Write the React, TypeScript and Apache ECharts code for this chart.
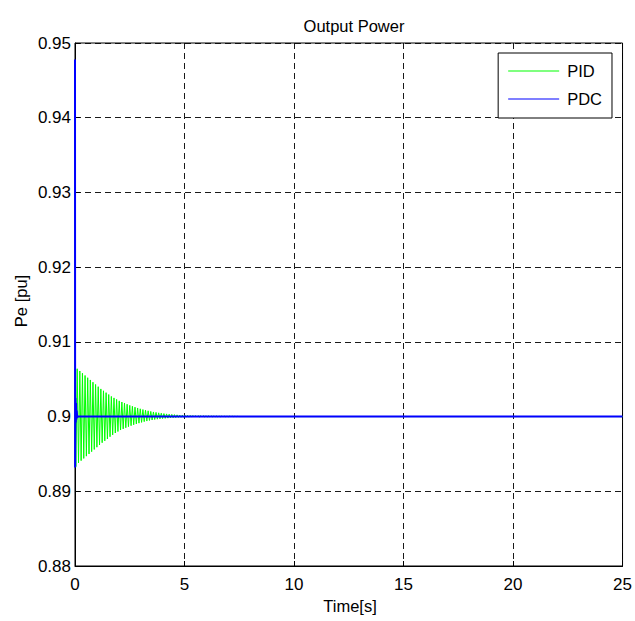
import React, { useEffect, useRef } from "react";
import * as echarts from "echarts";

const title = "Output Power";
const xName = "Time[s]";
const yName = "Pe [pu]";
const seriesNames = ["PID", "PDC"];
const xTicks = [0, 5, 10, 15, 20, 25];
const yTicks = [0.88, 0.89, 0.9, 0.91, 0.92, 0.93, 0.94, 0.95];

const baseLevel = 0.9;
// PID: sampling of the oscillation (first trough time, half-period spacing)
const pidFirstTrough = 0.04;
const pidPeriod = 0.12;
// deviations from 0.9 in thousandths
const pidTroughDev = [
  6.7, 6.2, 5.9, 5.6, 5.3, 5.0, 4.7, 4.4, 4.1, 3.8, 3.5, 3.25, 3.0, 2.7, 2.45, 2.2, 2.0, 1.8, 1.65, 1.5,
  1.35, 1.22, 1.1, 0.98, 0.88, 0.78, 0.68, 0.6, 0.52, 0.46, 0.4, 0.35, 0.3, 0.27, 0.24, 0.21, 0.18, 0.16,
  0.14, 0.12, 0.1, 0.09, 0.08, 0.08, 0.07, 0.06, 0.06, 0.05, 0.05, 0.04, 0.04, 0.04, 0.03, 0.03, 0.03,
  0.02, 0.02, 0.02, 0.02, 0.01, 0.01, 0.01,
];
const pidPeakDev = [
  6.4, 6.1, 5.8, 5.5, 5.2, 4.9, 4.6, 4.3, 4.0, 3.7, 3.45, 3.2, 2.95, 2.7, 2.5, 2.3, 2.1, 1.95, 1.8, 1.65,
  1.5, 1.38, 1.26, 1.15, 1.04, 0.94, 0.85, 0.77, 0.69, 0.62, 0.56, 0.5, 0.45, 0.4, 0.36, 0.32, 0.29, 0.26,
  0.23, 0.21, 0.19, 0.17, 0.16, 0.15, 0.14, 0.13, 0.12, 0.11, 0.1, 0.09, 0.09, 0.08, 0.07, 0.07, 0.06,
  0.06, 0.05, 0.05, 0.06, 0.05, 0.04, 0.03,
];
const pidEndTime = 25;

const pdcTimes = [0, 0.006, 0.02, 0.035, 0.05, 0.065, 0.08, 0.1, 0.13, 25];
const pdcValues = [0.9478, 0.8932, 0.9025, 0.8992, 0.9018, 0.8996, 0.9008, 0.8999, 0.9, 0.9];

const FONT = "'Liberation Sans', Arial, Helvetica, sans-serif";

export default function App() {
  const ref = useRef<HTMLDivElement>(null);
  useEffect(() => {
    if (!ref.current) return;
    const chart = echarts.init(ref.current, undefined, { renderer: "svg" });

    const pidData: number[][] = [[0, baseLevel]];
    for (let k = 0; k < pidPeakDev.length; k++) {
      const tT = pidFirstTrough + k * pidPeriod;
      pidData.push([tT, baseLevel - pidTroughDev[k] / 1000]);
      pidData.push([tT + pidPeriod / 2, baseLevel + pidPeakDev[k] / 1000]);
    }
    pidData.push([pidFirstTrough + pidPeakDev.length * pidPeriod, baseLevel]);
    pidData.push([pidEndTime, baseLevel]);
    const pdcData = pdcTimes.map((t, i) => [t, pdcValues[i]]);

    const gridLine = { show: true, lineStyle: { color: "#000", width: 0.9, type: [6, 4] as any } };

    chart.setOption({
      animation: false,
      backgroundColor: "#fff",
      title: {
        text: title,
        left: 349,
        textAlign: "center",
        top: 12,
        textStyle: { fontFamily: FONT, fontSize: 16.5, fontWeight: "normal", color: "#000" },
      },
      grid: {
        left: 75,
        right: 10,
        top: 43,
        bottom: 55,
        show: true,
        borderColor: "#000",
        borderWidth: 1,
        backgroundColor: "transparent",
      },
      legend: {
        data: seriesNames,
        orient: "vertical",
        right: 23,
        top: 53,
        icon: "rect",
        itemWidth: 51,
        itemHeight: 1,
        itemGap: 10,
        padding: [9, 10, 10, 10],
        borderColor: "#000",
        borderWidth: 1,
        backgroundColor: "#fff",
        textStyle: { fontFamily: FONT, fontSize: 16.5, color: "#000", lineHeight: 18, padding: [0, 0, 0, 3] },
      },
      xAxis: {
        type: "value",
        min: xTicks[0],
        max: xTicks[xTicks.length - 1],
        interval: 5,
        axisLine: { show: true, lineStyle: { color: "#000", width: 1 } },
        axisTick: { show: true, inside: true, length: 5, lineStyle: { color: "#000" } },
        axisLabel: { fontFamily: FONT, fontSize: 17, color: "#000", margin: 10 },
        splitLine: gridLine,
      },
      yAxis: {
        type: "value",
        min: yTicks[0],
        max: yTicks[yTicks.length - 1],
        interval: 0.01,
        axisLine: { show: true, lineStyle: { color: "#000", width: 1 } },
        axisTick: { show: true, inside: true, length: 5, lineStyle: { color: "#000" } },
        axisLabel: {
          fontFamily: FONT,
          fontSize: 17,
          color: "#000",
          margin: 4,
          formatter: (v: number) => String(Number(v.toFixed(2))),
        },
        splitLine: gridLine,
      },
      graphic: [
        {
          type: "text",
          x: 350,
          y: 606,
          style: { text: xName, font: `16.5px ${FONT}`, fill: "#000", align: "center", verticalAlign: "middle" },
        },
        {
          type: "text",
          x: 21,
          y: 301,
          rotation: Math.PI / 2,
          style: { text: yName, font: `16.5px ${FONT}`, fill: "#000", align: "center", verticalAlign: "middle" },
        },
      ],
      series: [
        {
          name: seriesNames[0],
          type: "line",
          data: pidData,
          showSymbol: false,
          color: "#00ff00",
          lineStyle: { color: "#00ff00", width: 1 },
        },
        {
          name: seriesNames[1],
          type: "line",
          data: pdcData,
          showSymbol: false,
          color: "#0000ff",
          lineStyle: { color: "#0000ff", width: 2 },
        },
      ],
    });
    return () => chart.dispose();
  }, []);
  return <div ref={ref} style={{ position: "fixed", left: 0, top: 0, width: 635, height: 621 }} />;
}
